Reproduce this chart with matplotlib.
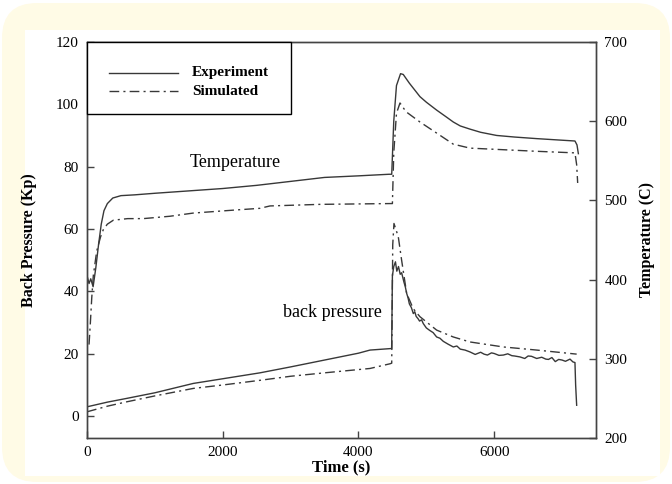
import numpy as np
import matplotlib
matplotlib.use('Agg')
import matplotlib.pyplot as plt
from matplotlib.patches import FancyBboxPatch, Rectangle
from matplotlib.lines import Line2D

plt.rcParams['font.family'] = ['Liberation Serif', 'DejaVu Serif']

# Temperature (C), experiment
t_temp_exp = [0, 30, 55, 90, 130, 170, 210, 250, 300, 380, 500, 700, 1000, 1500,
              2000, 2500, 3000, 3500, 4000, 4450, 4490, 4520, 4560, 4620, 4660,
              4750, 4906, 5000, 5152, 5300, 5397, 5500, 5643, 5800, 6036, 6300,
              6626, 7000, 7190, 7220, 7240]
temp_exp = [405, 395, 401, 391, 415, 444, 470, 487, 496, 503, 506, 507, 509, 512,
            515, 519, 524, 529, 531, 533, 533, 600, 645, 660, 659,
            648, 631, 624, 614, 605, 599, 594, 590, 586, 582, 580,
            578, 576, 575, 570, 559]

# Temperature (C), simulated
t_temp_sim = [30, 50, 70, 93, 143, 200, 240, 300, 388, 600, 830, 1223, 1566, 2205,
              2549, 2696, 3433, 4464, 4500, 4520, 4560, 4612, 4700, 4906, 5152,
              5397, 5643, 6134, 6626, 7190, 7215, 7230]
temp_sim = [318, 346, 377, 405, 436, 454, 463, 470, 475, 477, 477, 480, 484, 488,
            490, 493, 495, 496, 496, 560, 610, 623, 612, 599, 585,
            571, 566, 564, 562, 560, 545, 522]

# Back pressure (Kp), experiment
t_bp_exp = [0, 300, 585, 1000, 1566, 2000, 2549, 3000, 3500, 4000, 4170, 4489,
            4500, 4520, 4545, 4565, 4590, 4615, 4636, 4670, 4690, 4710, 4730,
            4750, 4780, 4808, 4830, 4850, 4880, 4900, 4930, 4955, 5000, 5050,
            5100, 5152, 5200, 5250, 5320, 5397, 5450, 5500, 5570, 5643, 5720,
            5800, 5850, 5900, 5960, 6000, 6070, 6134, 6200, 6260, 6300, 6380,
            6450, 6500, 6550, 6626, 6700, 6760, 6800, 6850, 6900, 6950, 7000,
            7050, 7117, 7160, 7190, 7200, 7215]
bp_exp = [3.0, 4.5, 5.7, 7.5, 10.5, 12.0, 13.9, 15.8, 18.0, 20.2, 21.2, 21.7,
          45.0, 48.0, 49.5, 46.5, 48.0, 45.5, 46.0, 43.0, 41.5, 39.4, 38.0,
          36.0, 34.8, 32.9, 33.5, 32.0, 31.2, 30.5, 30.9, 29.7, 28.3, 27.5,
          26.8, 25.4, 25.0, 24.0, 23.1, 22.2, 22.5, 21.5, 21.2, 20.6, 19.8,
          20.5, 19.9, 19.6, 20.3, 20.1, 19.5, 19.6, 20.0, 19.4, 19.3, 19.0,
          18.5, 19.3, 19.2, 18.5, 18.9, 18.3, 18.2, 18.8, 17.5, 18.2, 18.0,
          17.6, 18.3, 17.4, 17.2, 10.0, 3.5]

# Back pressure (Kp), simulated
t_bp_sim = [0, 300, 585, 1000, 1566, 2000, 2549, 3000, 3500, 4170, 4464, 4490,
            4505, 4523, 4550, 4587, 4636, 4710, 4806, 4906, 5152, 5397, 5643,
            6134, 6626, 7215]
bp_sim = [1.4, 3.2, 4.6, 6.5, 8.9, 10.0, 11.5, 12.8, 13.9, 15.3, 16.8, 17.0,
          55.0, 61.8, 60.0, 57.5, 50.0, 39.4, 34.5, 31.9, 27.6, 25.4, 23.8,
          22.2, 21.2, 19.9]

legend_labels = ['Experiment', 'Simulated']

line_color = '#383838'
dashdot = (0, (7, 3, 1.5, 3))

fig = plt.figure(figsize=(6.72, 4.84), dpi=100)
fig.patches.append(FancyBboxPatch((0.02, 0.02), 6.68, 4.79,
                                  boxstyle='round,pad=0,rounding_size=0.35',
                                  transform=fig.dpi_scale_trans,
                                  facecolor='#fffbe6', edgecolor='none', zorder=-10))
fig.patches.append(Rectangle((0.25, 0.08), 6.35, 4.46, transform=fig.dpi_scale_trans,
                             facecolor='white', edgecolor='none', zorder=-9))

ax = fig.add_axes([87 / 672, 1 - 438 / 484, 509 / 672, 396 / 484])
ax.set_facecolor('white')
ax2 = ax.twinx()

ax.plot(t_bp_exp, bp_exp, color=line_color, lw=1)
ax.plot(t_bp_sim, bp_sim, color=line_color, lw=1, linestyle=dashdot)
ax2.plot(t_temp_exp, temp_exp, color=line_color, lw=1)
ax2.plot(t_temp_sim, temp_sim, color=line_color, lw=1, linestyle=dashdot)

ax.set_xlim(0, 7500)
ax.set_ylim(-7, 120)
ax2.set_ylim(200, 700)
ax.set_xticks([0, 2000, 4000, 6000])
ax.set_yticks([0, 20, 40, 60, 80, 100, 120])
ax2.set_yticks([200, 300, 400, 500, 600, 700])

for a in (ax, ax2):
    a.tick_params(direction='in', length=5, width=1, labelsize=11, pad=6, color='#444444')
    for s in a.spines.values():
        s.set_linewidth(1)
        s.set_color('#444444')

ax.set_xlabel('Time (s)', fontsize=12, fontweight='bold')
ax.set_ylabel('Back Pressure (Kp)', fontsize=11.5, fontweight='bold')
ax2.set_ylabel('Temperature (C)', fontsize=11.5, fontweight='bold')
ax.xaxis.set_label_coords(0.5, -0.055)
ax.yaxis.set_label_coords(-0.098, 0.5)
ax2.yaxis.set_label_coords(1.085, 0.5)

ax.text(2181, 81.5, 'Temperature', fontsize=13, ha='center', va='center')
ax.text(3610, 33.4, 'back pressure', fontsize=13, ha='center', va='center')

# legend box drawn by hand (square box in the top-left corner)
tr = ax2.transAxes
ax2.add_patch(Rectangle((0, 0.818), 0.401, 0.182, transform=tr, facecolor='white',
                        edgecolor='black', lw=1, zorder=5, clip_on=False))
for i, (lab, ls) in enumerate(zip(legend_labels, ['-', dashdot])):
    y = 0.922 - i * 0.046
    ax2.add_line(Line2D([0.043, 0.179], [y, y], transform=tr, color=line_color,
                        lw=1, linestyle=ls, zorder=6))
    ax2.text(0.206, y, lab, transform=tr, fontsize=11, fontweight='bold',
             va='center', ha='left', zorder=6)

fig.savefig('out.png', dpi=100)
